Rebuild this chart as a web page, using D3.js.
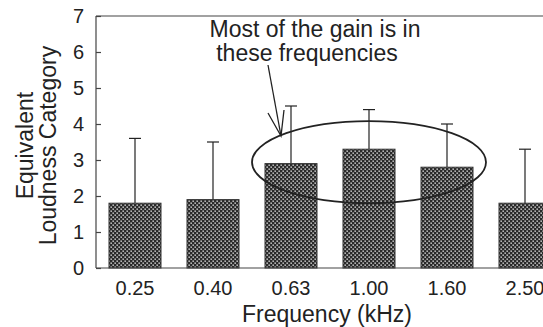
<!DOCTYPE html>
<html>
<head>
<meta charset="utf-8">
<script src="https://cdn.jsdelivr.net/npm/d3@7"></script>
<style>
  html, body { margin: 0; padding: 0; background: #fff; }
  svg { display: block; }
  text { font-family: "Liberation Sans", Arial, Helvetica, sans-serif; fill: #222; }
</style>
</head>
<body>
<div id="chart"></div>
<script>
const freqs = ["0.25", "0.40", "0.63", "1.00", "1.60", "2.50"];
const means = [1.8, 1.9, 2.9, 3.3, 2.8, 1.8];
const sds = [1.8, 1.6, 1.6, 1.1, 1.2, 1.5];
const yTicks = [0, 1, 2, 3, 4, 5, 6, 7];
const noteLines = ["Most of the gain is in", "these frequencies"];

const width = 543;
const height = 327;
const plotL = 96, plotT = 16, plotB = 268, plotR = 564;

const svg = d3.select("#chart").append("svg")
  .attr("width", width)
  .attr("height", height);

// crosshatch fill
const pat = svg.append("defs").append("pattern")
  .attr("id", "hatch")
  .attr("patternUnits", "userSpaceOnUse")
  .attr("width", 4)
  .attr("height", 4);
pat.append("rect").attr("width", 4).attr("height", 4).attr("fill", "#2a2a2a");
pat.append("rect").attr("x", 0.5).attr("y", 0.5).attr("width", 1.3).attr("height", 1.3).attr("fill", "#fff");
pat.append("rect").attr("x", 2.5).attr("y", 2.5).attr("width", 1.3).attr("height", 1.3).attr("fill", "#fff");

const x = d3.scaleBand()
  .domain(freqs)
  .range([plotL, plotR])
  .paddingInner(1 / 3)
  .paddingOuter(1 / 6);

const y = d3.scaleLinear()
  .domain([0, 7])
  .range([plotB, plotT]);

const rows = freqs.map((f, i) => ({ f, m: means[i], sd: sds[i] }));

// error bars (upper only)
const cap = 6;
rows.forEach(d => {
  const cx = x(d.f) + x.bandwidth() / 2;
  svg.append("line")
    .attr("x1", cx).attr("x2", cx)
    .attr("y1", y(d.m)).attr("y2", y(d.m + d.sd))
    .attr("stroke", "#222").attr("stroke-width", 1.2);
  svg.append("line")
    .attr("x1", cx - cap).attr("x2", cx + cap)
    .attr("y1", y(d.m + d.sd)).attr("y2", y(d.m + d.sd))
    .attr("stroke", "#222").attr("stroke-width", 1.2);
});

// bars
svg.selectAll("rect.bar")
  .data(rows)
  .join("rect")
  .attr("class", "bar")
  .attr("x", d => x(d.f))
  .attr("y", d => y(d.m))
  .attr("width", x.bandwidth())
  .attr("height", d => y(0) - y(d.m))
  .attr("fill", "url(#hatch)")
  .attr("stroke", "#333")
  .attr("stroke-width", 1);

// frame: left axis, bottom axis, top line
svg.append("line")
  .attr("x1", plotL).attr("x2", plotL)
  .attr("y1", y(0)).attr("y2", y(7))
  .attr("stroke", "#444").attr("stroke-width", 1.2);
svg.append("line")
  .attr("x1", plotL).attr("x2", plotR)
  .attr("y1", y(0)).attr("y2", y(0))
  .attr("stroke", "#444").attr("stroke-width", 1.2);
svg.append("line")
  .attr("x1", plotL).attr("x2", plotR)
  .attr("y1", y(7)).attr("y2", y(7))
  .attr("stroke", "#444").attr("stroke-width", 1.2);

// y axis ticks (inward) + labels
const yAxis = d3.axisLeft(y)
  .tickValues(yTicks)
  .tickSizeInner(-5)
  .tickSizeOuter(0)
  .tickPadding(12)
  .tickFormat(d3.format("d"));
const gy = svg.append("g")
  .attr("transform", `translate(${plotL},0)`)
  .call(yAxis);
gy.select(".domain").remove();
gy.selectAll(".tick line").attr("stroke", "#444").attr("stroke-width", 1.2);
gy.selectAll(".tick text")
  .attr("font-size", 20)
  .attr("fill", "#222")
  .style("font-family", "'Liberation Sans', Arial, sans-serif");

// x axis labels
const xAxis = d3.axisBottom(x).tickSize(0).tickPadding(13);
const gx = svg.append("g")
  .attr("transform", `translate(0,${plotB})`)
  .call(xAxis);
gx.select(".domain").remove();
gx.selectAll(".tick text")
  .attr("font-size", 20)
  .attr("fill", "#222")
  .style("font-family", "'Liberation Sans', Arial, sans-serif");

// axis titles
svg.append("text")
  .attr("x", (plotL + plotR) / 2 - 3)
  .attr("y", 322)
  .attr("text-anchor", "middle")
  .attr("font-size", 23)
  .text("Frequency (kHz)");

const yTitle = svg.append("text")
  .attr("transform", `translate(0,${y(3.4)}) rotate(-90)`)
  .attr("text-anchor", "middle")
  .attr("font-size", 23);
yTitle.append("tspan").attr("x", 0).attr("y", 33).text("Equivalent");
yTitle.append("tspan").attr("x", 0).attr("y", 56).text("Loudness Category");

// ellipse round the middle frequencies
const ex0 = (x("0.40") + x("0.63") + x.bandwidth()) / 2;
const ex1 = (x("1.60") + x("2.50") + x.bandwidth()) / 2;
svg.append("ellipse")
  .attr("cx", (ex0 + ex1) / 2)
  .attr("cy", y(2.94))
  .attr("rx", (ex1 - ex0) / 2)
  .attr("ry", y(1.8) - y(2.94))
  .attr("fill", "none")
  .attr("stroke", "#222")
  .attr("stroke-width", 1.8);

// note text
const note = svg.append("text")
  .attr("text-anchor", "middle")
  .attr("font-size", 23);
note.append("tspan").attr("x", 315).attr("y", 37).text(noteLines[0]);
note.append("tspan").attr("x", 307).attr("y", 61).text(noteLines[1]);

// arrow from note to ellipse
const tip = [281, 136];
svg.append("line")
  .attr("x1", 268).attr("y1", 65)
  .attr("x2", tip[0]).attr("y2", tip[1])
  .attr("stroke", "#222").attr("stroke-width", 1.3);
svg.append("path")
  .attr("d", `M268,113 L${tip[0]},${tip[1]} L284,110`)
  .attr("fill", "none")
  .attr("stroke", "#222")
  .attr("stroke-width", 1.3);
</script>
</body>
</html>
